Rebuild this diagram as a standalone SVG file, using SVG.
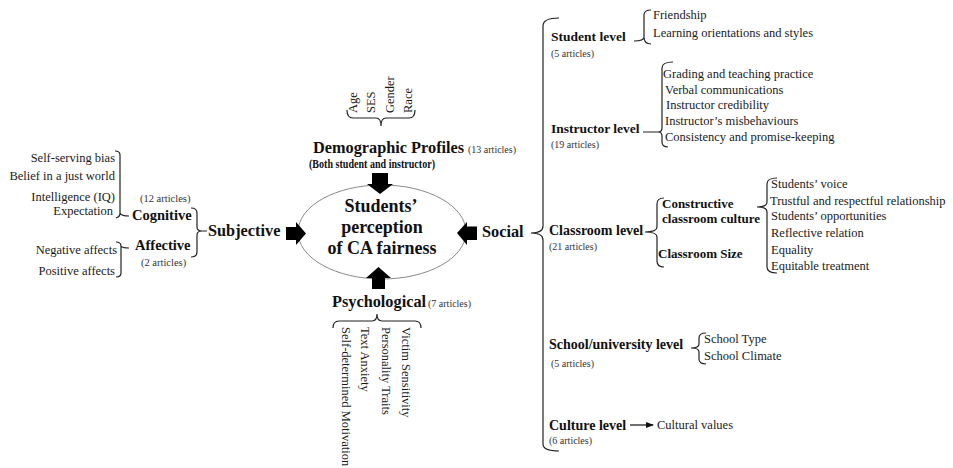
<svg xmlns="http://www.w3.org/2000/svg" width="953" height="468" viewBox="0 0 953 468">
<defs>
<marker id="ah" markerWidth="8" markerHeight="6" refX="7" refY="3" orient="auto" markerUnits="userSpaceOnUse">
<path d="M0,0 L8,3 L0,6 z" fill="#111"/>
</marker>
<style>
text{font-family:"Liberation Serif","Times New Roman",serif;fill:#111}
.leaf{font-size:12.5px;fill:#1a1a1a}
.end{text-anchor:end}
.cnt{font-size:10px;fill:#333}
.b14{font-size:14px;font-weight:bold}
.b16{font-size:16.3px;font-weight:bold}
.b13{font-size:13px;font-weight:bold}
.brace{fill:none;stroke:#222;stroke-width:1.2}
.blk{fill:#000}
.ell{fill:#fff;stroke:#8a8a8a;stroke-width:1}
</style>
</defs>
<rect width="953" height="468" fill="#fff"/>

<g id="center">
<ellipse class="ell" cx="382" cy="232" rx="84" ry="47"/>
<text x="381" y="212" text-anchor="middle" font-size="18" font-weight="bold">Students’</text>
<text x="382" y="233" text-anchor="middle" font-size="18" font-weight="bold">perception</text>
<text x="382" y="254" text-anchor="middle" font-size="18" font-weight="bold">of CA fairness</text>
</g>

<g id="connectors">
<!-- left braces -->
<path class="brace" d="M115,151 Q120,151 120,155 V213 Q120,217 116,218 M120,213 Q121,216 129,216"/>
<path class="brace" d="M116,242 Q121,242 121,246 V273 Q121,277 116,277 M121,246 Q122,248 129,248"/>
<path class="brace" d="M191,208 Q197,208 197,213 V227 Q197,231 202,231 H207 M202,231 Q197,231 197,235 V252 Q197,257 191,257"/>
<!-- top and bottom braces -->
<path class="brace" d="M347,110 Q347,118 353,118 H376 Q381,118 381,126 Q381,118 386,118 H409 Q415,118 415,110"/>
<path class="brace" d="M333,328 Q333,321 339,321 H372 Q377,321 377,314 Q377,321 382,321 H415 Q421,321 421,328"/>
<!-- big social brace -->
<path class="brace" d="M559,18 Q543,18 543,26 V226 Q543,233 531,233 Q543,233 543,240 V444 Q543,451 559,451"/>
<!-- level braces -->
<path class="brace" d="M651,10 Q644,10 644,15 V37 Q644,41 634,41 M644,37 Q644,44 651,44"/>
<path class="brace" d="M673,62 Q662,62 662,68 V128 Q662,132 658,132 H643 M658,132 Q662,132 662,136 V142 Q662,147 668,147"/>
<path class="brace" d="M664,198 Q657,198 657,204 V227 Q657,232 645,232 Q657,232 657,237 V261 Q657,267 664,267"/>
<path class="brace" d="M777,178 Q767,178 767,184 V202 Q767,207 757,207 Q767,207 767,212 V267 Q767,273 777,273"/>
<path class="brace" d="M706,333 Q699,333 699,338 V344 Q699,348 691,348 Q699,348 699,352 V359 Q699,364 706,364"/>
<line x1="630" y1="425" x2="653" y2="425" stroke="#111" stroke-width="1.2" marker-end="url(#ah)"/>
<!-- block arrows -->
<polygon class="blk" points="372,173 388,173 388,184 393,184 380,194 367,184 372,184"/>
<polygon class="blk" points="378.5,267 391,278 385,278 385,289 372,289 372,278 366,278"/>
<polygon class="blk" points="286,227 296,227 296,222 306,233.5 296,245 296,240 286,240"/>
<polygon class="blk" points="477,226.5 467,226.5 467,222 457,233 467,245 467,240 477,240"/>
</g>

<g id="subjective">
<text class="b16" x="208" y="236">Subjective</text>
</g>
<g id="cognitive">
<text class="cnt" x="140" y="202" style="font-size:10.5px">(12 articles)</text>
<text x="132" y="220" font-size="14.5" font-weight="bold">Cognitive</text>
<text class="leaf end" x="115" y="162">Self-serving bias</text>
<text class="leaf end" x="115" y="180">Belief in a just world</text>
<text class="leaf end" x="115" y="201">Intelligence (IQ)</text>
<text class="leaf end" x="113" y="215">Expectation</text>
</g>
<g id="affective">
<text x="135" y="250" font-size="14.5" font-weight="bold">Affective</text>
<text class="cnt" x="141" y="266" style="font-size:10.5px">(2 articles)</text>
<text class="leaf end" x="117" y="254">Negative affects</text>
<text class="leaf end" x="115" y="275">Positive affects</text>
</g>

<g id="demographic">
<text class="b16" x="313" y="153">Demographic Profiles</text>
<text class="cnt" x="468" y="153">(13 articles)</text>
<text x="309" y="168" font-size="11.5" font-weight="bold" textLength="126" lengthAdjust="spacingAndGlyphs">(Both student and instructor)</text>
<text class="leaf" transform="translate(357,113) rotate(-90)">Age</text>
<text class="leaf" transform="translate(375,113) rotate(-90)">SES</text>
<text class="leaf" transform="translate(394,113) rotate(-90)">Gender</text>
<text class="leaf" transform="translate(412,113) rotate(-90)">Race</text>
</g>

<g id="psychological">
<text class="b16" x="332" y="307">Psychological</text>
<text class="cnt" x="428" y="307">(7 articles)</text>
<text class="leaf" transform="translate(342,327) rotate(90)">Self-determined Motivation</text>
<text class="leaf" transform="translate(360.5,327) rotate(90)">Text Anxiety</text>
<text class="leaf" transform="translate(382,327) rotate(90)">Personality Traits</text>
<text class="leaf" transform="translate(402,327) rotate(90)">Victim Sensitivity</text>
</g>

<g id="social">
<text class="b16" x="482" y="237">Social</text>
</g>

<g id="student-level">
<text x="551" y="41" font-size="13.5" font-weight="bold">Student level</text>
<text class="cnt" x="551" y="57">(5 articles)</text>
<text class="leaf" x="653" y="19">Friendship</text>
<text class="leaf" x="653" y="37">Learning orientations and styles</text>
</g>

<g id="instructor-level">
<text x="551" y="133" font-size="13.5" font-weight="bold">Instructor level</text>
<text class="cnt" x="551" y="148">(19 articles)</text>
<text class="leaf" x="663" y="78">Grading and teaching practice</text>
<text class="leaf" x="665" y="94">Verbal communications</text>
<text class="leaf" x="666" y="109">Instructor credibility</text>
<text class="leaf" x="665" y="125">Instructor’s misbehaviours</text>
<text class="leaf" x="665" y="141">Consistency and promise-keeping</text>
</g>

<g id="classroom-level">
<text class="b14" x="549" y="235">Classroom level</text>
<text class="cnt" x="549" y="250">(21 articles)</text>
</g>
<g id="constructive-culture">
<text class="b13" x="662" y="208">Constructive</text>
<text class="b13" x="662" y="223">classroom culture</text>
<text class="leaf" x="771" y="188">Students’ voice</text>
<text class="leaf" x="770" y="205">Trustful and respectful relationship</text>
<text class="leaf" x="771" y="220">Students’ opportunities</text>
<text class="leaf" x="771" y="237">Reflective relation</text>
<text class="leaf" x="771" y="254">Equality</text>
<text class="leaf" x="771" y="270">Equitable treatment</text>
</g>
<g id="classroom-size">
<text class="b13" x="658" y="258">Classroom Size</text>
</g>

<g id="school-level">
<text class="b14" x="549" y="349">School/university level</text>
<text class="cnt" x="551" y="367">(5 articles)</text>
<text class="leaf" x="704" y="343">School Type</text>
<text class="leaf" x="704" y="360">School Climate</text>
</g>

<g id="culture-level">
<text class="b14" x="549" y="430">Culture level</text>
<text class="cnt" x="549" y="444">(6 articles)</text>
<text class="leaf" x="657" y="429">Cultural values</text>
</g>
</svg>
